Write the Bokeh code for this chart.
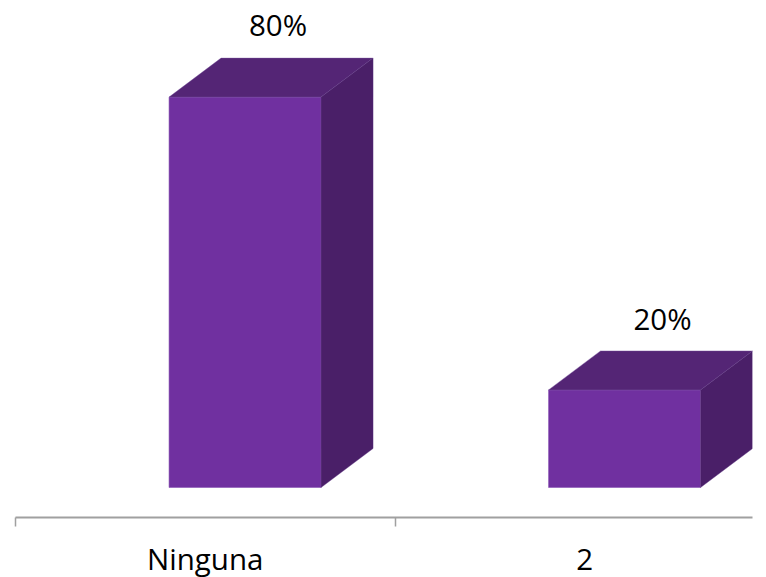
from bokeh.plotting import figure
from bokeh.models import FixedTicker, Range1d
from bokeh.core.properties import value
from bokeh.embed import file_html
from bokeh.resources import INLINE

categories = ["Ninguna", "2"]
values = [80, 20]
value_labels = ["80%", "20%"]

FRONT, TOP, SIDE = "#7030A0", "#542575", "#4A1F68"
FONT = "Open Sans"
FONT_SIZE = "29.5px"

CAT_PX = 379.5
Y_PX = 4.88
FRAME_W, FRAME_H = 737, 509
BASE_PX = 30
DX, DY = 52 / CAT_PX, 39 / Y_PX
BAR_W = 152 / CAT_PX
SHIFT = 39.8 / CAT_PX

p = figure(width=766, height=577, output_backend="svg", toolbar_location=None,
           x_range=Range1d(-0.5, -0.5 + FRAME_W / CAT_PX),
           y_range=Range1d(-BASE_PX / Y_PX, (FRAME_H - BASE_PX) / Y_PX),
           frame_width=FRAME_W, frame_height=FRAME_H,
           min_border_left=15, min_border_right=14, min_border_top=8, min_border_bottom=60,
           outline_line_color=None, background_fill_color="white", border_fill_color="white")
p.grid.visible = False
p.yaxis.visible = False

idx = list(range(len(categories)))
lefts = [i + SHIFT - BAR_W / 2 for i in idx]
rights = [l + BAR_W for l in lefts]

p.quad(left=lefts, right=rights, bottom=0, top=values, fill_color=FRONT,
       line_color="#8A55B5", line_width=0.6)
p.patches(xs=[[l, r, r + DX, l + DX] for l, r in zip(lefts, rights)],
          ys=[[v, v, v + DY, v + DY] for v in values],
          fill_color=TOP, line_color="#7A55A0", line_width=0.4)
p.patches(xs=[[r, r + DX, r + DX, r] for r in rights],
          ys=[[v, v + DY, DY, 0] for v in values],
          fill_color=SIDE, line_color="#5A3080", line_width=0.4)

p.text(x=[i + SHIFT for i in idx], y=values, text=value_labels,
       x_offset=[33, 38], y_offset=[-73, -71], text_align="center", text_baseline="middle",
       text_font=value(FONT), text_font_size=FONT_SIZE, text_color="#000000")

ax = p.xaxis[0]
ax.ticker = FixedTicker(ticks=idx, minor_ticks=[i - 0.5 for i in idx])
ax.major_label_overrides = {i: c for i, c in zip(idx, categories)}
ax.major_tick_line_color = None
ax.major_tick_in = 0
ax.major_tick_out = 0
ax.minor_tick_line_color = "#A0A0A0"
ax.minor_tick_line_width = 1.5
ax.minor_tick_in = 0
ax.minor_tick_out = 9
ax.axis_line_color = "#A0A0A0"
ax.axis_line_width = 2
ax.major_label_standoff = 11
ax.major_label_text_font = FONT
ax.major_label_text_font_size = FONT_SIZE
ax.major_label_text_color = "#000000"

open("out.html", "w").write(file_html(p, INLINE))
